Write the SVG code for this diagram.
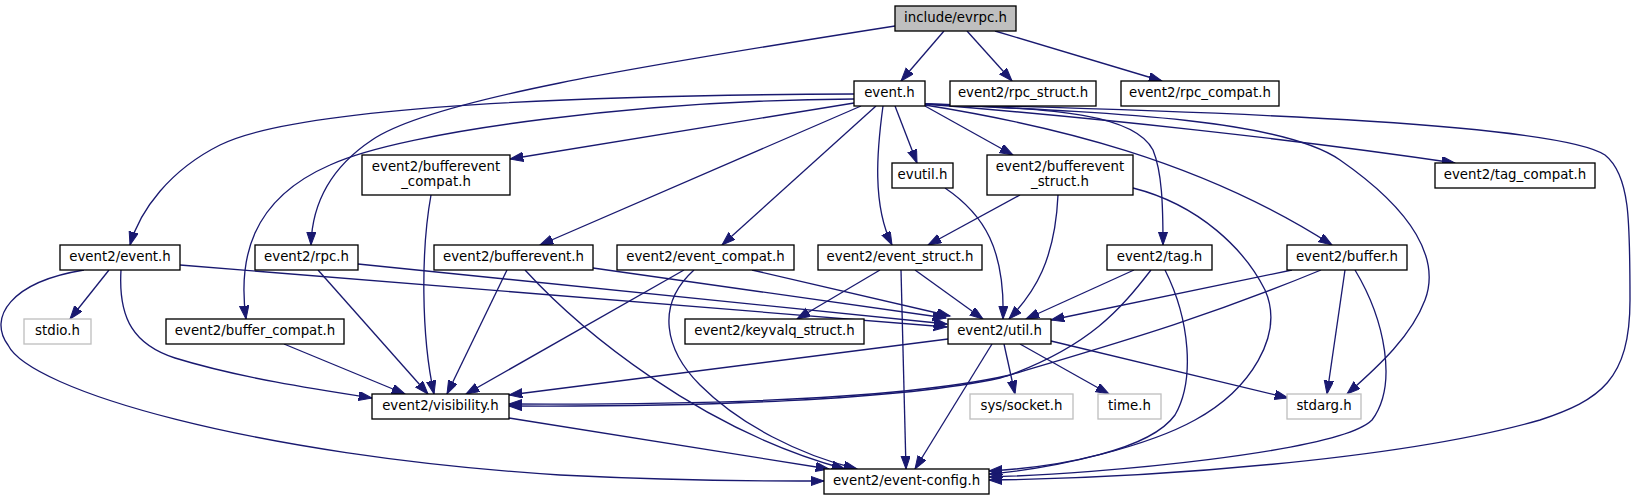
<svg xmlns="http://www.w3.org/2000/svg" width="1640" height="500" viewBox="0 0 1640 500">
<style>
.n rect{fill:#fff;stroke:#000;stroke-width:1.33}
.x rect{fill:#fff;stroke:#bfbfbf;stroke-width:1.33}
.r rect{fill:#bfbfbf;stroke:#000;stroke-width:1.33}
text{font-family:"DejaVu Sans",sans-serif;font-size:13.33px;text-anchor:middle;fill:#000}
.e path{fill:none;stroke:#191970;stroke-width:1.33;marker-end:url(#a)}
</style>
<defs>
<marker id="a" markerUnits="userSpaceOnUse" markerWidth="16" markerHeight="12" refX="13.3" refY="4.67" orient="auto">
<path d="M0,0 L13.3,4.67 L0,9.33 z" fill="#191970" stroke="#191970" stroke-width="1"/>
</marker>
</defs>
<rect width="1640" height="500" fill="#fff"/>
<g class="e" id="edges">
<path d="M944,31 L901,81"/>
<path d="M967,31 L1012,81"/>
<path d="M995,31 L1162,81"/>
<path d="M895,26 C640,66 430,100 372,140 C330,168 312,205 311,245"/>
<path d="M854,94 C600,95 300,105 220,145 C170,170 140,210 130,245"/>
<path d="M854,99 C650,100 405,130 330,165 C250,200 238,260 246,319"/>
<path d="M854,103 L510,159"/>
<path d="M861,106 L540,245"/>
<path d="M876,106 L722,245"/>
<path d="M883,106 C877,150 872,205 892,245"/>
<path d="M895,106 L917,163"/>
<path d="M925,106 L1013,155"/>
<path d="M925,104 C1060,108 1135,115 1153,150 C1162,172 1163,205 1163,245"/>
<path d="M925,105 C1050,125 1200,160 1332,245"/>
<path d="M925,104 C1100,118 1300,140 1455,163"/>
<path d="M925,104 C1100,112 1280,118 1340,160 C1415,212 1440,260 1425,300 C1412,335 1380,365 1347,394"/>
<path d="M925,104 C1250,112 1560,125 1605,155 C1630,175 1630,220 1630,300 C1630,380 1600,400 1540,420 C1400,460 1150,478 989,480"/>
<path d="M431,195 C421,250 421,335 434,394"/>
<path d="M945,188 C985,215 1005,250 1003,319"/>
<path d="M1020,195 L928,245"/>
<path d="M1058,195 C1055,260 1035,292 1009,319"/>
<path d="M1133,188 C1200,205 1245,250 1265,290 C1285,335 1250,390 1195,420 C1150,445 1060,468 989,474"/>
<path d="M109,270 L70,319"/>
<path d="M121,270 C118,320 135,345 175,358 C240,378 320,390 372,398"/>
<path d="M84,270 C10,282 -12,318 8,345 C30,390 250,455 560,475 C700,482 780,481 824,481"/>
<path d="M180,265 L947,327"/>
<path d="M358,264 L947,324"/>
<path d="M318,270 L428,394"/>
<path d="M593,268 L946,318"/>
<path d="M507,270 L447,394"/>
<path d="M525,270 C580,330 700,430 845,469"/>
<path d="M752,270 L950,316"/>
<path d="M684,270 L466,394"/>
<path d="M694,270 C655,305 665,350 700,385 C740,425 800,455 857,469"/>
<path d="M880,270 L797,319"/>
<path d="M915,270 L983,319"/>
<path d="M901,270 L906,469"/>
<path d="M1134,270 L1026,319"/>
<path d="M1151,270 C1120,310 1090,345 1010,375 C900,400 700,405 509,404"/>
<path d="M1165,270 C1190,320 1195,380 1175,415 C1150,450 1060,467 989,471"/>
<path d="M1292,270 L1051,320"/>
<path d="M1321,270 C1200,320 1110,345 1000,378 C900,400 700,407 509,406"/>
<path d="M1345,270 L1327,394"/>
<path d="M1355,270 C1385,320 1398,385 1372,420 C1340,452 1100,474 989,477"/>
<path d="M284,344 L405,394"/>
<path d="M948,339 L509,395"/>
<path d="M1004,344 L1015,394"/>
<path d="M1020,344 L1109,394"/>
<path d="M1051,341 L1288,398"/>
<path d="M992,344 L915,469"/>
<path d="M509,418 L829,469"/>
</g>
<g id="n0" class="r"><rect x="895" y="6" width="121" height="25"/><text x="955.5" y="22">include/evrpc.h</text></g>
<g id="n1" class="n"><rect x="854" y="81" width="71" height="25"/><text x="889.5" y="97">event.h</text></g>
<g id="n2" class="n"><rect x="950" y="81" width="146" height="25"/><text x="1023" y="97">event2/rpc_struct.h</text></g>
<g id="n3" class="n"><rect x="1121" y="81" width="158" height="25"/><text x="1200" y="97">event2/rpc_compat.h</text></g>
<g id="n4" class="n"><rect x="362" y="155" width="148" height="40"/><text x="436" y="171">event2/bufferevent</text><text x="436" y="186">_compat.h</text></g>
<g id="n5" class="n"><rect x="892" y="163" width="61" height="25"/><text x="922.5" y="179">evutil.h</text></g>
<g id="n6" class="n"><rect x="987" y="155" width="146" height="40"/><text x="1060" y="171">event2/bufferevent</text><text x="1060" y="186">_struct.h</text></g>
<g id="n7" class="n"><rect x="1435" y="163" width="160" height="25"/><text x="1515" y="179">event2/tag_compat.h</text></g>
<g id="n8" class="n"><rect x="60" y="245" width="120" height="25"/><text x="120" y="261">event2/event.h</text></g>
<g id="n9" class="n"><rect x="255" y="245" width="103" height="25"/><text x="306.5" y="261">event2/rpc.h</text></g>
<g id="n10" class="n"><rect x="434" y="245" width="159" height="25"/><text x="513.5" y="261">event2/bufferevent.h</text></g>
<g id="n11" class="n"><rect x="617" y="245" width="177" height="25"/><text x="705.5" y="261">event2/event_compat.h</text></g>
<g id="n12" class="n"><rect x="818" y="245" width="164" height="25"/><text x="900" y="261">event2/event_struct.h</text></g>
<g id="n13" class="n"><rect x="1107" y="245" width="105" height="25"/><text x="1159.5" y="261">event2/tag.h</text></g>
<g id="n14" class="n"><rect x="1287" y="245" width="120" height="25"/><text x="1347" y="261">event2/buffer.h</text></g>
<g id="n15" class="x"><rect x="24" y="319" width="67" height="25"/><text x="57.5" y="335">stdio.h</text></g>
<g id="n16" class="n"><rect x="166" y="319" width="178" height="25"/><text x="255" y="335">event2/buffer_compat.h</text></g>
<g id="n17" class="n"><rect x="685" y="319" width="179" height="25"/><text x="774.5" y="335">event2/keyvalq_struct.h</text></g>
<g id="n18" class="n"><rect x="948" y="319" width="103" height="25"/><text x="999.5" y="335">event2/util.h</text></g>
<g id="n19" class="n"><rect x="372" y="394" width="137" height="25"/><text x="440.5" y="410">event2/visibility.h</text></g>
<g id="n20" class="x"><rect x="970" y="394" width="103" height="25"/><text x="1021.5" y="410">sys/socket.h</text></g>
<g id="n21" class="x"><rect x="1098" y="394" width="63" height="25"/><text x="1129.5" y="410">time.h</text></g>
<g id="n22" class="x"><rect x="1287" y="394" width="74" height="25"/><text x="1324" y="410">stdarg.h</text></g>
<g id="n23" class="n"><rect x="824" y="469" width="165" height="25"/><text x="906.5" y="485">event2/event-config.h</text></g>
</svg>
